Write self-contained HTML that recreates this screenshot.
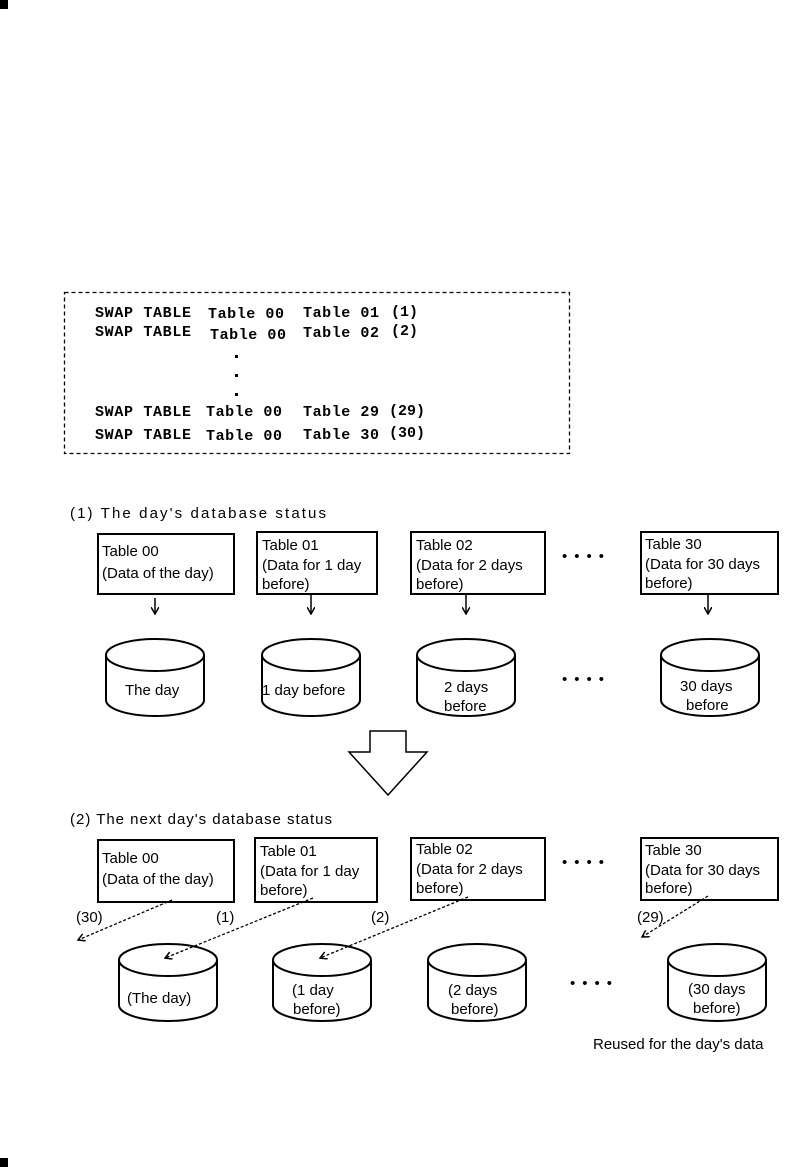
<!DOCTYPE html>
<html><head><meta charset="utf-8"><style>
html,body{margin:0;padding:0;background:#fff}
svg{display:block}
text{font-family:"Liberation Sans Narrow","Liberation Sans",sans-serif;font-size:15px;fill:#000}
.m{font-family:"Liberation Mono",monospace;font-weight:bold;font-size:15px}
</style></head><body>
<svg width="787" height="1167" viewBox="0 0 787 1167" xmlns="http://www.w3.org/2000/svg">
<defs>
<marker id="ah" markerWidth="8" markerHeight="8" refX="7" refY="4" orient="auto" markerUnits="userSpaceOnUse"><path d="M0,0 L7,4 L0,8" fill="none" stroke="#000" stroke-width="1.5"/></marker>
</defs>
<rect x="0" y="0" width="8" height="9" fill="#000"/>
<rect x="0" y="1158" width="8" height="9" fill="#000"/>
<rect x="64.5" y="292.5" width="505" height="161" fill="none" stroke="#000" stroke-width="1.3" stroke-dasharray="4,3"/>
<g class="m">
<text class="m" x="95" y="317" textLength="96">SWAP TABLE</text><text class="m" x="208" y="318" textLength="76">Table 00</text><text class="m" x="303" y="317" textLength="76">Table 01</text><text class="m" x="391" y="316" font-size="12">(1)</text>
<text class="m" x="95" y="336" textLength="96">SWAP TABLE</text><text class="m" x="210" y="339" textLength="76">Table 00</text><text class="m" x="303" y="337" textLength="76">Table 02</text><text class="m" x="391" y="335" font-size="12">(2)</text>
<text class="m" x="95" y="416" textLength="96">SWAP TABLE</text><text class="m" x="206" y="416" textLength="76">Table 00</text><text class="m" x="303" y="416" textLength="76">Table 29</text><text class="m" x="389" y="415" font-size="12">(29)</text>
<text class="m" x="95" y="439" textLength="96">SWAP TABLE</text><text class="m" x="206" y="440" textLength="76">Table 00</text><text class="m" x="303" y="439" textLength="76">Table 30</text><text class="m" x="389" y="437" font-size="12">(30)</text>
</g>
<rect x="235" y="355" width="3" height="3"/><rect x="235" y="374" width="3" height="3"/><rect x="235" y="393" width="3" height="3"/>

<text x="70" y="518" textLength="256">(1) The day's database status</text>
<g fill="none" stroke="#000" stroke-width="2">
<rect x="98" y="534" width="136" height="60"/>
<rect x="257" y="532" width="120" height="62"/>
<rect x="411" y="532" width="134" height="62"/>
<rect x="641" y="532" width="137" height="62"/>
</g>
<text x="102" y="556">Table 00</text><text x="102" y="578">(Data of the day)</text>
<text x="262" y="550">Table 01</text><text x="262" y="570">(Data for 1 day</text><text x="262" y="589">before)</text>
<text x="416" y="550">Table 02</text><text x="416" y="570">(Data for 2 days</text><text x="416" y="589">before)</text>
<text x="645" y="549">Table 30</text><text x="645" y="569">(Data for 30 days</text><text x="645" y="588">before)</text>
<g stroke="#000" stroke-width="1.5" marker-end="url(#ah)">
<line x1="155" y1="598" x2="155" y2="614"/><line x1="311" y1="594" x2="311" y2="614"/><line x1="466" y1="594" x2="466" y2="614"/><line x1="708" y1="594" x2="708" y2="614"/>
</g>
<g font-size="22"><text x="562" y="561" font-size="20" letter-spacing="7">••••</text><text x="562" y="684" font-size="20" letter-spacing="7">••••</text><text x="570" y="988" font-size="20" letter-spacing="7">••••</text><text x="562" y="867" font-size="20" letter-spacing="7">••••</text></g>
<g fill="#fff" stroke="#000" stroke-width="2">
<path d="M106,655 v45 a49,16 0 0 0 98,0 v-45"/><ellipse cx="155" cy="655" rx="49" ry="16"/>
<path d="M262,655 v45 a49,16 0 0 0 98,0 v-45"/><ellipse cx="311" cy="655" rx="49" ry="16"/>
<path d="M417,655 v45 a49,16 0 0 0 98,0 v-45"/><ellipse cx="466" cy="655" rx="49" ry="16"/>
<path d="M661,655 v45 a49,16 0 0 0 98,0 v-45"/><ellipse cx="710" cy="655" rx="49" ry="16"/>
</g>
<text x="125" y="695">The day</text><text x="262" y="695">1 day before</text>
<text x="444" y="692">2 days</text><text x="444" y="711">before</text>
<text x="680" y="691">30 days</text><text x="686" y="710">before</text>

<path d="M370,731 h36 v21 h21 l-39,43 l-39,-43 h21 z" fill="#fff" stroke="#000" stroke-width="1.5"/>

<text x="70" y="824" textLength="262">(2) The next day's database status</text>
<g fill="none" stroke="#000" stroke-width="2">
<rect x="98" y="840" width="136" height="62"/>
<rect x="255" y="838" width="122" height="64"/>
<rect x="411" y="838" width="134" height="62"/>
<rect x="641" y="838" width="137" height="62"/>
</g>
<text x="102" y="863">Table 00</text><text x="102" y="884">(Data of the day)</text>
<text x="260" y="856">Table 01</text><text x="260" y="876">(Data for 1 day</text><text x="260" y="895">before)</text>
<text x="416" y="854">Table 02</text><text x="416" y="874">(Data for 2 days</text><text x="416" y="893">before)</text>
<text x="645" y="855">Table 30</text><text x="645" y="875">(Data for 30 days</text><text x="645" y="893">before)</text>
<g fill="#fff" stroke="#000" stroke-width="2">
<path d="M119,960 v45 a49,16 0 0 0 98,0 v-45"/><ellipse cx="168" cy="960" rx="49" ry="16"/>
<path d="M273,960 v45 a49,16 0 0 0 98,0 v-45"/><ellipse cx="322" cy="960" rx="49" ry="16"/>
<path d="M428,960 v45 a49,16 0 0 0 98,0 v-45"/><ellipse cx="477" cy="960" rx="49" ry="16"/>
<path d="M668,960 v45 a49,16 0 0 0 98,0 v-45"/><ellipse cx="717" cy="960" rx="49" ry="16"/>
</g>
<g stroke="#000" stroke-width="1.3" stroke-dasharray="3,2" marker-end="url(#ah)">
<line x1="172" y1="900" x2="78" y2="940"/><line x1="313" y1="898" x2="165" y2="958"/><line x1="468" y1="897" x2="320" y2="958"/><line x1="708" y1="896" x2="642" y2="937"/>
</g>
<text x="76" y="922">(30)</text><text x="216" y="922">(1)</text><text x="371" y="922">(2)</text><text x="637" y="922">(29)</text>
<text x="127" y="1003">(The day)</text>
<text x="292" y="995">(1 day</text><text x="293" y="1014">before)</text>
<text x="448" y="995">(2 days</text><text x="451" y="1014">before)</text>
<text x="688" y="994">(30 days</text><text x="693" y="1013">before)</text>
<text x="593" y="1049">Reused for the day's data</text>
</svg>
</body></html>
